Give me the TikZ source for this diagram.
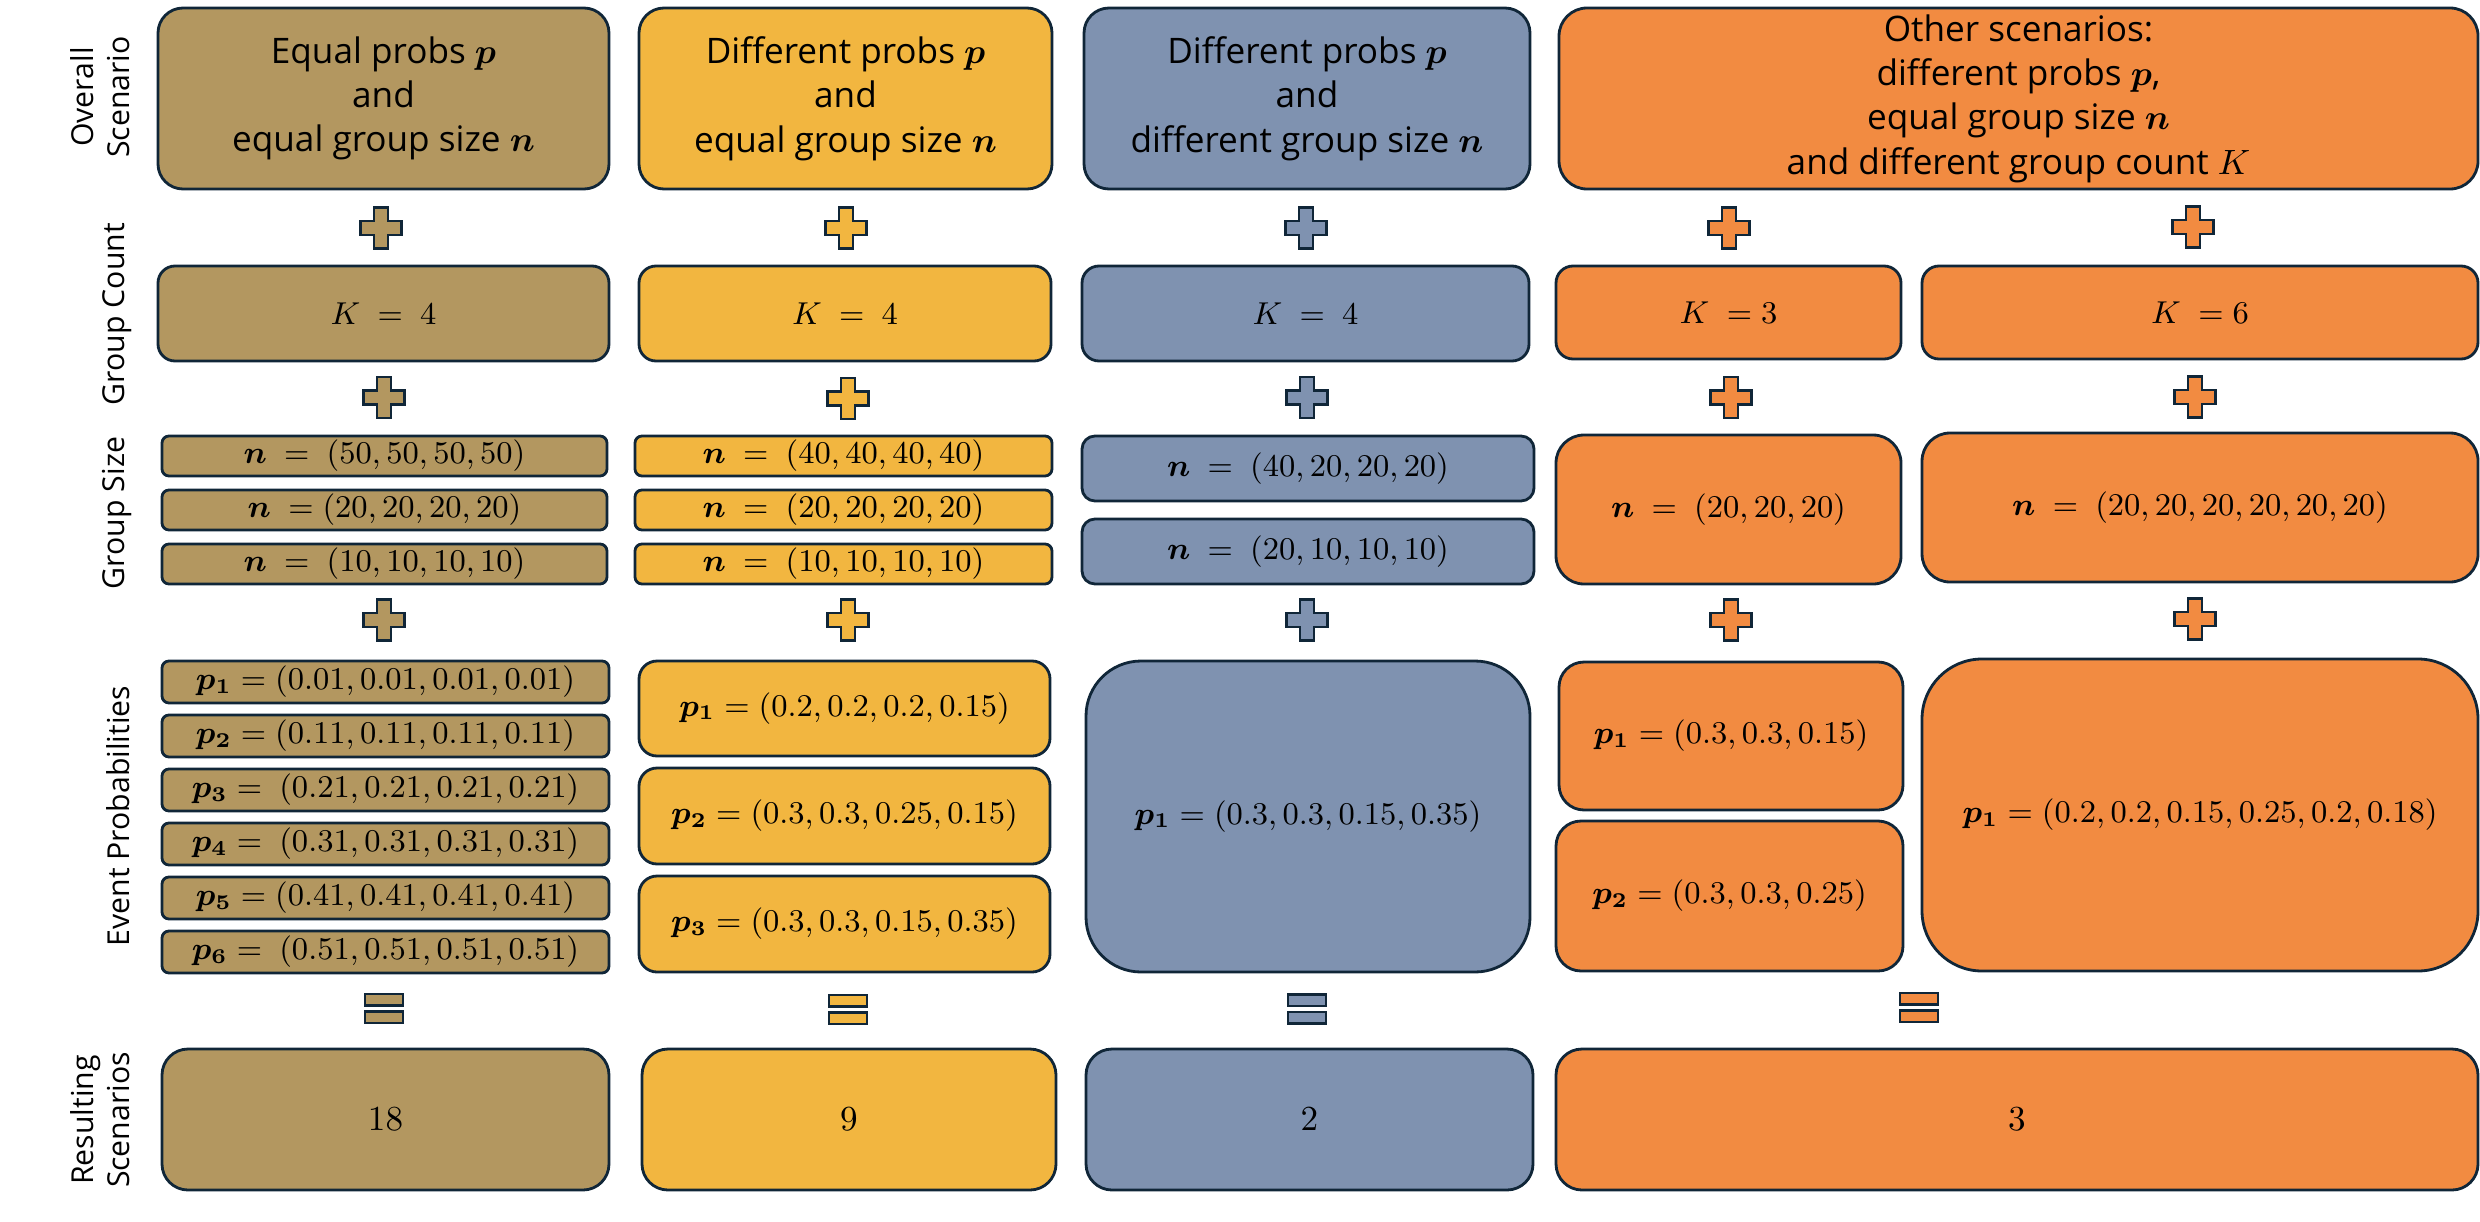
\documentclass[tikz,border=0pt]{standalone}
\usepackage{amsmath,amssymb}
\usepackage{fontspec}
\setmainfont{Open Sans}
\usepackage{tikz}
\usepackage{xcolor}

\definecolor{colsand}{RGB}{179,151,96}
\definecolor{colgold}{RGB}{242,182,64}
\definecolor{colslate}{RGB}{127,146,176}
\definecolor{colorange}{RGB}{242,139,65}
\definecolor{coledge}{RGB}{16,38,56}

% plus and equal signs between the rows
\newcommand{\plusmark}[3]{\filldraw[fill=#3,draw=coledge,line width=0.7pt] (#1,#2) ++(-0.068,0.205) -- ++(0.136,0) -- ++(0,-0.137) -- ++(0.137,0) -- ++(0,-0.136) -- ++(-0.137,0) -- ++(0,-0.137) -- ++(-0.136,0) -- ++(0,0.137) -- ++(-0.137,0) -- ++(0,0.136) -- ++(0.137,0) -- cycle;}
\newcommand{\eqmark}[3]{\filldraw[fill=#3,draw=coledge,line width=0.7pt] (#1,#2) ++(-0.19,0.145) rectangle ++(0.38,-0.115);
  \filldraw[fill=#3,draw=coledge,line width=0.7pt] (#1,#2) ++(-0.19,-0.03) rectangle ++(0.38,-0.115);}

\begin{document}
\begin{tikzpicture}[
    box/.style={draw=coledge,line width=0.8pt,inner sep=0pt,align=center,text=black},
    big/.style={font=\fontsize{10}{12.6}\selectfont},
    mth/.style={font=\fontsize{9}{11}\selectfont},
    side/.style={rotate=90,align=center,font=\fontsize{8.6}{10.2}\selectfont}]
            \useasboundingbox (0,0) rectangle (24.8,-12.21);
            % row labels
            \node[side] (lblover) at (1.0,-0.97) {Overall\\Scenario};
            \node[side] (lblcount) at (1.17,-3.14) {Group Count};
            \node[side] (lblsize) at (1.17,-5.13) {Group Size};
            \node[side] (lblprob) at (1.18,-8.16) {Event Probabilities};
            \node[side] (lblres) at (1.0,-11.2) {Resulting\\Scenarios};
            % equal probs, equal sizes
            \node[box,big,fill=colsand,minimum width=4.51cm,minimum height=1.81cm,rounded corners=0.25cm] (over1) at (3.835,-0.985) {Equal probs $\boldsymbol{p}$\\and\\equal group size $\boldsymbol{n}$};
            \node[box,mth,fill=colsand,minimum width=4.51cm,minimum height=0.95cm,rounded corners=0.17cm] (cnt1) at (3.835,-3.135) {$K\ =\ 4$};
            \node[box,mth,fill=colsand,minimum width=4.45cm,minimum height=0.40cm,rounded corners=0.07cm] (size1a) at (3.845,-4.56) {$\boldsymbol{n}\ =\ (50,50,50,50)$};
            \node[box,mth,fill=colsand,minimum width=4.45cm,minimum height=0.40cm,rounded corners=0.07cm] (size1b) at (3.845,-5.10) {$\boldsymbol{n}\ = (20,20,20,20)$};
            \node[box,mth,fill=colsand,minimum width=4.45cm,minimum height=0.40cm,rounded corners=0.07cm] (size1c) at (3.845,-5.64) {$\boldsymbol{n}\ =\ (10,10,10,10)$};
            \node[box,mth,fill=colsand,minimum width=4.47cm,minimum height=0.42cm,rounded corners=0.07cm] (prob1a) at (3.855,-6.82) {$\boldsymbol{p_1} = (0.01,0.01,0.01,0.01)$};
            \node[box,mth,fill=colsand,minimum width=4.47cm,minimum height=0.42cm,rounded corners=0.07cm] (prob1b) at (3.855,-7.36) {$\boldsymbol{p_2} = (0.11,0.11,0.11,0.11)$};
            \node[box,mth,fill=colsand,minimum width=4.47cm,minimum height=0.42cm,rounded corners=0.07cm] (prob1c) at (3.855,-7.90) {$\boldsymbol{p_3} =\ (0.21,0.21,0.21,0.21)$};
            \node[box,mth,fill=colsand,minimum width=4.47cm,minimum height=0.42cm,rounded corners=0.07cm] (prob1d) at (3.855,-8.44) {$\boldsymbol{p_4} =\ (0.31,0.31,0.31,0.31)$};
            \node[box,mth,fill=colsand,minimum width=4.47cm,minimum height=0.42cm,rounded corners=0.07cm] (prob1e) at (3.855,-8.98) {$\boldsymbol{p_5} = (0.41,0.41,0.41,0.41)$};
            \node[box,mth,fill=colsand,minimum width=4.47cm,minimum height=0.42cm,rounded corners=0.07cm] (prob1f) at (3.855,-9.52) {$\boldsymbol{p_6} =\ (0.51,0.51,0.51,0.51)$};
            \node[box,big,fill=colsand,minimum width=4.47cm,minimum height=1.41cm,rounded corners=0.26cm] (res1) at (3.855,-11.195) {$18$};
            % different probs, equal sizes
            \node[box,big,fill=colgold,minimum width=4.13cm,minimum height=1.81cm,rounded corners=0.25cm] (over2) at (8.455,-0.985) {Different probs $\boldsymbol{p}$\\and\\equal group size $\boldsymbol{n}$};
            \node[box,mth,fill=colgold,minimum width=4.12cm,minimum height=0.95cm,rounded corners=0.17cm] (cnt2) at (8.45,-3.135) {$K\ =\ 4$};
            \node[box,mth,fill=colgold,minimum width=4.17cm,minimum height=0.40cm,rounded corners=0.07cm] (size2a) at (8.435,-4.56) {$\boldsymbol{n}\ =\ (40,40,40,40)$};
            \node[box,mth,fill=colgold,minimum width=4.17cm,minimum height=0.40cm,rounded corners=0.07cm] (size2b) at (8.435,-5.10) {$\boldsymbol{n}\ =\ (20,20,20,20)$};
            \node[box,mth,fill=colgold,minimum width=4.17cm,minimum height=0.40cm,rounded corners=0.07cm] (size2c) at (8.435,-5.64) {$\boldsymbol{n}\ =\ (10,10,10,10)$};
            \node[box,mth,fill=colgold,minimum width=4.11cm,minimum height=0.95cm,rounded corners=0.18cm] (prob2a) at (8.445,-7.085) {$\boldsymbol{p_1} = (0.2,0.2,0.2,0.15)$};
            \node[box,mth,fill=colgold,minimum width=4.11cm,minimum height=0.96cm,rounded corners=0.18cm] (prob2b) at (8.445,-8.16) {$\boldsymbol{p_2} = (0.3,0.3,0.25,0.15)$};
            \node[box,mth,fill=colgold,minimum width=4.11cm,minimum height=0.96cm,rounded corners=0.18cm] (prob2c) at (8.445,-9.24) {$\boldsymbol{p_3} = (0.3,0.3,0.15,0.35)$};
            \node[box,big,fill=colgold,minimum width=4.14cm,minimum height=1.41cm,rounded corners=0.26cm] (res2) at (8.49,-11.195) {$9$};
            % different probs, different sizes
            \node[box,big,fill=colslate,minimum width=4.46cm,minimum height=1.81cm,rounded corners=0.25cm] (over3) at (13.07,-0.985) {Different probs $\boldsymbol{p}$\\and\\different group size $\boldsymbol{n}$};
            \node[box,mth,fill=colslate,minimum width=4.47cm,minimum height=0.95cm,rounded corners=0.17cm] (cnt3) at (13.055,-3.135) {$K\ =\ 4$};
            \node[box,mth,fill=colslate,minimum width=4.52cm,minimum height=0.65cm,rounded corners=0.13cm] (size3a) at (13.08,-4.685) {$\boldsymbol{n}\ =\ (40,20,20,20)$};
            \node[box,mth,fill=colslate,minimum width=4.52cm,minimum height=0.65cm,rounded corners=0.13cm] (size3b) at (13.08,-5.515) {$\boldsymbol{n}\ =\ (20,10,10,10)$};
            \node[box,mth,fill=colslate,minimum width=4.44cm,minimum height=3.11cm,rounded corners=0.55cm] (prob3) at (13.08,-8.165) {$\boldsymbol{p_1} = (0.3,0.3,0.15,0.35)$};
            \node[box,big,fill=colslate,minimum width=4.47cm,minimum height=1.41cm,rounded corners=0.26cm] (res3) at (13.095,-11.195) {$2$};
            % other scenarios
            \node[box,big,fill=colorange,minimum width=9.19cm,minimum height=1.81cm,rounded corners=0.28cm] (over4) at (20.185,-0.985) {Other scenarios:\\different probs $\boldsymbol{p}$,\\equal group size $\boldsymbol{n}$\\and different group count $K$};
            \node[box,mth,fill=colorange,minimum width=3.45cm,minimum height=0.93cm,rounded corners=0.17cm] (cnt4a) at (17.285,-3.125) {$K\ = 3$};
            \node[box,mth,fill=colorange,minimum width=5.56cm,minimum height=0.93cm,rounded corners=0.17cm] (cnt4b) at (22.0,-3.125) {$K\ = 6$};
            \node[box,mth,fill=colorange,minimum width=3.45cm,minimum height=1.49cm,rounded corners=0.28cm] (size4a) at (17.285,-5.095) {$\boldsymbol{n}\ =\ (20,20,20)$};
            \node[box,mth,fill=colorange,minimum width=5.56cm,minimum height=1.49cm,rounded corners=0.28cm] (size4b) at (22.0,-5.075) {$\boldsymbol{n}\ =\ (20,20,20,20,20,20)$};
            \node[box,mth,fill=colorange,minimum width=3.44cm,minimum height=1.48cm,rounded corners=0.25cm] (prob4a) at (17.31,-7.36) {$\boldsymbol{p_1} = (0.3,0.3,0.15)$};
            \node[box,mth,fill=colorange,minimum width=3.47cm,minimum height=1.50cm,rounded corners=0.25cm] (prob4b) at (17.295,-8.96) {$\boldsymbol{p_2} = (0.3,0.3,0.25)$};
            \node[box,mth,fill=colorange,minimum width=5.56cm,minimum height=3.12cm,rounded corners=0.6cm] (prob4c) at (22.0,-8.15) {$\boldsymbol{p_1} = (0.2,0.2,0.15,0.25,0.2,0.18)$};
            \node[box,big,fill=colorange,minimum width=9.22cm,minimum height=1.41cm,rounded corners=0.26cm] (res4) at (20.17,-11.195) {$3$};
            % plus signs
            \plusmark{3.81}{-2.28}{colsand}
            \plusmark{8.46}{-2.28}{colgold}
            \plusmark{13.06}{-2.28}{colslate}
            \plusmark{17.29}{-2.28}{colorange}
            \plusmark{21.93}{-2.27}{colorange}
            \plusmark{3.84}{-3.975}{colsand}
            \plusmark{8.48}{-3.985}{colgold}
            \plusmark{13.07}{-3.975}{colslate}
            \plusmark{17.31}{-3.975}{colorange}
            \plusmark{21.95}{-3.97}{colorange}
            \plusmark{3.84}{-6.20}{colsand}
            \plusmark{8.48}{-6.20}{colgold}
            \plusmark{13.07}{-6.20}{colslate}
            \plusmark{17.31}{-6.20}{colorange}
            \plusmark{21.95}{-6.19}{colorange}
            % equal signs
            \eqmark{3.84}{-10.085}{colsand}
            \eqmark{8.48}{-10.095}{colgold}
            \eqmark{13.07}{-10.09}{colslate}
            \eqmark{19.19}{-10.075}{colorange}
        \end{tikzpicture}
\end{document}
